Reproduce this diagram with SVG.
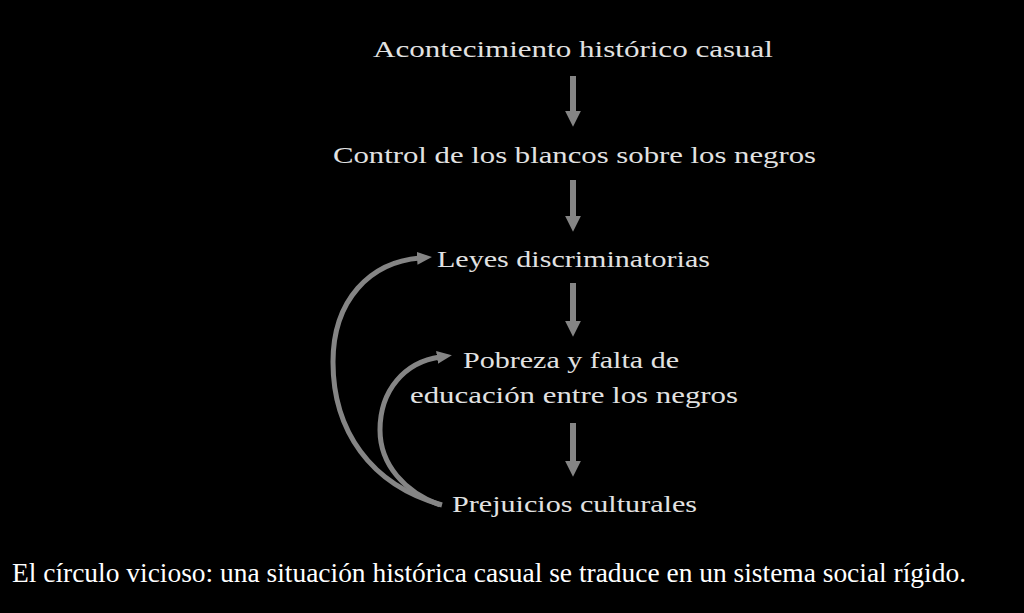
<svg xmlns="http://www.w3.org/2000/svg" width="1024" height="613" viewBox="0 0 1024 613">
<defs>
<style>
.lbl{font-family:"Liberation Serif","DejaVu Serif",serif;font-size:24px;fill:#e2e2e2;text-anchor:start}
.cap{font-family:"Liberation Serif","DejaVu Serif",serif;font-size:27px;fill:#ffffff}
.sh{stroke:#858585;stroke-width:6;fill:none}
.cv{stroke:#858585;stroke-width:5;fill:none}
</style>
<marker id="ah" viewBox="0 0 10 10" refX="2" refY="5" markerWidth="16" markerHeight="16" markerUnits="userSpaceOnUse" orient="auto">
<path d="M0,0 L10,5 L0,10 Z" fill="#858585"/>
</marker>
<marker id="ac" viewBox="0 0 10 10" refX="2" refY="5" markerWidth="15" markerHeight="13" markerUnits="userSpaceOnUse" orient="auto" preserveAspectRatio="none">
<path d="M0,0 L10,5 L0,10 Z" fill="#858585"/>
</marker>
</defs>
<rect x="0" y="0" width="1024" height="613" fill="#000000"/>
<g id="connectors">
<line class="sh" x1="573" y1="76" x2="573" y2="114" marker-end="url(#ah)"/>
<line class="sh" x1="573" y1="180" x2="573" y2="219" marker-end="url(#ah)"/>
<line class="sh" x1="573" y1="283" x2="573" y2="324" marker-end="url(#ah)"/>
<line class="sh" x1="573" y1="423" x2="573" y2="464" marker-end="url(#ah)"/>
<path class="cv" d="M442,505 C370,485 333,430 333,362 C333,300 370,262 420,258" marker-end="url(#ac)"/>
<path class="cv" d="M440,505 C405,492 380,465 380,430 C380,390 405,362 440,357" marker-end="url(#ac)"/>
</g>
<g id="n1"><text class="lbl" x="373" y="57" textLength="400" lengthAdjust="spacingAndGlyphs">Acontecimiento histórico casual</text></g>
<g id="n2"><text class="lbl" x="333" y="163" textLength="483" lengthAdjust="spacingAndGlyphs">Control de los blancos sobre los negros</text></g>
<g id="n3"><text class="lbl" x="437" y="267" textLength="273" lengthAdjust="spacingAndGlyphs">Leyes discriminatorias</text></g>
<g id="n4"><text class="lbl" x="463" y="368" textLength="216" lengthAdjust="spacingAndGlyphs">Pobreza y falta de</text><text class="lbl" x="410" y="403" textLength="328" lengthAdjust="spacingAndGlyphs">educación entre los negros</text></g>
<g id="n5"><text class="lbl" x="452" y="512" textLength="245" lengthAdjust="spacingAndGlyphs">Prejuicios culturales</text></g>
<g id="caption"><text class="cap" x="12" y="582" textLength="954" lengthAdjust="spacingAndGlyphs">El círculo vicioso: una situación histórica casual se traduce en un sistema social rígido.</text></g>
</svg>
